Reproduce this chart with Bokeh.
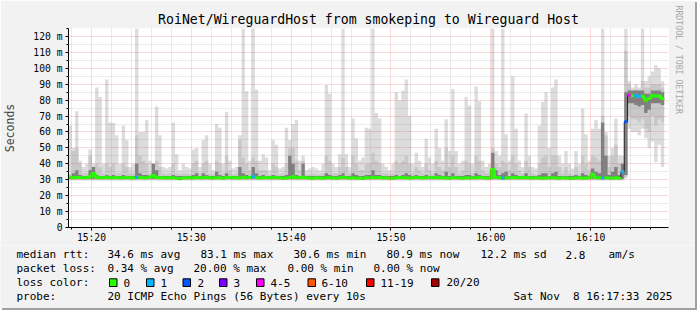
from bokeh.plotting import figure
from bokeh.layouts import column, row
from bokeh.models import Range1d, FixedTicker, Title
from bokeh.embed import file_html
from bokeh.resources import INLINE

FONT = "DejaVu Sans Mono"
TITLE = "RoiNet/WireguardHost from smokeping to Wireguard Host"

# ---------------- data (ms), one sample per 20 s starting 15:17:42 ----------------
start_min = 17.7      # minutes after 15:00
step_s = 20

light_hi = [
    64, 50, 73, 42, 38, 40, 49, 40, 88, 82,
    40, 93, 66, 65.6, 58, 40, 64, 55, 38, 40,
    125, 60, 60, 67.5, 42, 40, 76, 58, 38, 37,
    38, 66, 46, 36, 40, 38, 37, 49, 50, 38,
    55, 58, 40, 36, 65, 62.7, 40, 72.5, 42, 37,
    38, 58, 125, 85.6, 42, 125, 86.7, 42, 46, 44,
    36, 55, 52, 37, 38, 62.7, 55, 64.8, 67.7, 42,
    45, 36, 37, 38, 37, 36, 40, 89.5, 84, 40,
    38, 46, 125, 46, 38, 68.5, 56, 42, 44, 62.7,
    62, 125, 72, 68.5, 40, 38, 36, 40, 85, 80,
    86, 93, 70, 40, 47, 42, 38, 55.8, 44, 40,
    62, 50, 42, 68, 48, 87, 48, 40, 42, 82,
    76.7, 40, 88.5, 79.4, 42, 38, 40, 125, 48, 45,
    125, 58.5, 42, 95, 62, 42, 38, 71.6, 45, 38,
    37, 64, 79, 85, 50, 88, 93, 45, 40, 48,
    40, 37, 48, 40, 74.6, 58.5, 42, 62, 67.6, 62,
    125, 60, 45, 50, 68.5, 45, 45, 125, 92, 88,
    90, 88, 125, 92, 95, 98, 102, 100, 92,
]
light_lo = [
    29.5, 29.5, 29.5, 29.5, 29.5, 29.5, 29.5, 29.5, 29.5, 29.5,
    29.5, 29.5, 29.5, 29.5, 29.5, 29.5, 29.5, 29.5, 29.5, 29.5,
    29.5, 29.5, 29.5, 29.5, 29.5, 29.5, 29.5, 29.5, 29.5, 29.5,
    29.5, 29.5, 29.5, 29.5, 29.5, 29.5, 29.5, 29.5, 29.5, 29.5,
    29.5, 29.5, 29.5, 29.5, 29.5, 29.5, 29.5, 29.5, 29.5, 29.5,
    29.5, 29.5, 29.5, 29.5, 29.5, 29.5, 29.5, 29.5, 29.5, 29.5,
    29.5, 29.5, 29.5, 29.5, 29.5, 29.5, 29.5, 29.5, 29.5, 29.5,
    29.5, 29.5, 29.5, 29.5, 29.5, 29.5, 29.5, 29.5, 29.5, 29.5,
    29.5, 29.5, 29.5, 29.5, 29.5, 29.5, 29.5, 29.5, 29.5, 29.5,
    29.5, 29.5, 29.5, 29.5, 29.5, 29.5, 29.5, 29.5, 29.5, 29.5,
    29.5, 29.5, 29.5, 29.5, 29.5, 29.5, 29.5, 29.5, 29.5, 29.5,
    29.5, 29.5, 29.5, 29.5, 29.5, 29.5, 29.5, 29.5, 29.5, 29.5,
    29.5, 29.5, 29.5, 29.5, 29.5, 29.5, 29.5, 29.5, 29.5, 29.5,
    29.5, 29.5, 29.5, 29.5, 29.5, 29.5, 29.5, 29.5, 29.5, 29.5,
    29.5, 29.5, 29.5, 29.5, 29.5, 29.5, 29.5, 29.5, 29.5, 29.5,
    29.5, 29.5, 29.5, 29.5, 29.5, 29.5, 29.5, 29.5, 29.5, 29.5,
    29.5, 29.5, 29.5, 29.5, 29.5, 29.5, 29.5, 31, 62, 60,
    60, 58, 62, 56, 50, 54, 41, 52, 38,
]
mid_hi = [
    33.5, 48, 50, 40, 34, 34, 45, 38, 40, 38,
    34, 40, 38, 40, 34, 34, 40, 38, 34, 34,
    58, 45, 42, 40, 34, 40, 42, 38, 34, 33.5,
    34, 40, 34, 33.5, 34, 34, 33.5, 40, 42, 34,
    40, 42, 34, 33.5, 42, 40, 34, 45, 36, 33.5,
    34, 55, 44, 40, 36, 44, 42, 36, 36, 36,
    33.5, 40, 38, 33.5, 34, 40, 50, 50, 42, 36,
    42, 33.5, 33.5, 34, 33.5, 33.5, 34, 45, 42, 34,
    34, 38, 44, 38, 34, 45, 40, 36, 36, 40,
    40, 47, 42, 40, 34, 34, 33.5, 34, 42, 40,
    42, 45, 40, 34, 38, 36, 34, 40, 36, 34,
    42, 38, 36, 50, 38, 45, 38, 34, 36, 42,
    40, 34, 45, 42, 36, 34, 34, 50, 40, 38,
    42, 40, 36, 45, 40, 36, 34, 42, 38, 34,
    33.5, 40, 44, 45, 38, 45, 45, 38, 34, 38,
    34, 33.5, 38, 34, 45, 40, 36, 45, 44, 42,
    70, 58, 38, 45, 52, 40, 40, 111, 90, 86,
    87, 86, 92, 88, 88, 90, 90, 90, 88,
]
mid_lo = [
    30.2, 30.2, 30.2, 30.2, 30.2, 30.2, 30.2, 30.2, 30.2, 30.2,
    30.2, 30.2, 30.2, 30.2, 30.2, 30.2, 30.2, 30.2, 30.2, 30.2,
    30.2, 30.2, 30.2, 30.2, 30.2, 30.2, 30.2, 30.2, 30.2, 30.2,
    30.2, 30.2, 30.2, 30.2, 30.2, 30.2, 30.2, 30.2, 30.2, 30.2,
    30.2, 30.2, 30.2, 30.2, 30.2, 30.2, 30.2, 30.2, 30.2, 30.2,
    30.2, 30.2, 30.2, 30.2, 30.2, 30.2, 30.2, 30.2, 30.2, 30.2,
    30.2, 30.2, 30.2, 30.2, 30.2, 30.2, 30.2, 30.2, 30.2, 30.2,
    30.2, 30.2, 30.2, 30.2, 30.2, 30.2, 30.2, 30.2, 30.2, 30.2,
    30.2, 30.2, 30.2, 30.2, 30.2, 30.2, 30.2, 30.2, 30.2, 30.2,
    30.2, 30.2, 30.2, 30.2, 30.2, 30.2, 30.2, 30.2, 30.2, 30.2,
    30.2, 30.2, 30.2, 30.2, 30.2, 30.2, 30.2, 30.2, 30.2, 30.2,
    30.2, 30.2, 30.2, 30.2, 30.2, 30.2, 30.2, 30.2, 30.2, 30.2,
    30.2, 30.2, 30.2, 30.2, 30.2, 30.2, 30.2, 30.2, 30.2, 30.2,
    30.2, 30.2, 30.2, 30.2, 30.2, 30.2, 30.2, 30.2, 30.2, 30.2,
    30.2, 30.2, 30.2, 30.2, 30.2, 30.2, 30.2, 30.2, 30.2, 30.2,
    30.2, 30.2, 30.2, 30.2, 30.2, 30.2, 30.2, 30.2, 30.2, 30.2,
    30.2, 30.2, 30.2, 30.2, 30.2, 30.2, 30.2, 32, 70, 68,
    68, 66, 68, 62, 60, 70, 64, 68, 66,
]
dark_hi = [
    32.4, 34, 36, 33, 32.4, 32.4, 36, 38, 33, 32.4,
    32.4, 33, 32.4, 33, 32.4, 32.4, 33, 32.4, 32.4, 32.4,
    40, 34, 33, 33, 32.4, 40, 36, 32.4, 32.4, 32.4,
    32.4, 33, 32.4, 32.4, 32.4, 32.4, 32.4, 33, 34, 32.4,
    34, 33, 32.4, 32.4, 35, 33, 32.4, 34, 32.4, 32.4,
    32.4, 38, 34, 33, 32.4, 38, 34, 32.4, 33, 32.4,
    32.4, 33, 32.4, 32.4, 32.4, 33, 45, 40, 33, 32.4,
    40, 32.4, 32.4, 32.4, 32.4, 32.4, 32.4, 34, 33, 32.4,
    32.4, 33, 34, 32.4, 32.4, 34, 33, 32.4, 32.4, 33,
    33, 36, 33, 33, 32.4, 32.4, 32.4, 32.4, 33, 32.4,
    33, 34, 33, 32.4, 33, 32.4, 32.4, 33, 32.4, 32.4,
    34, 33, 32.4, 35, 32.4, 34, 32.4, 32.4, 32.4, 33,
    33, 32.4, 34, 33, 32.4, 32.4, 32.4, 47, 36, 33,
    34, 35, 32.4, 34, 33, 32.4, 32.4, 34, 32.4, 32.4,
    32.4, 33, 34, 34, 32.4, 34, 35, 32.4, 32.4, 32.4,
    32.4, 32.4, 33, 32.4, 34, 33, 32.4, 37, 35, 34,
    66, 45, 33, 35, 38, 33, 40, 85, 86, 86,
    86, 86, 86, 84, 84, 86, 86, 86, 85,
]
dark_lo = [
    30.6, 30.6, 30.6, 30.6, 30.6, 30.6, 30.6, 30.6, 30.6, 30.6,
    30.6, 30.6, 30.6, 30.6, 30.6, 30.6, 30.6, 30.6, 30.6, 30.6,
    30.6, 30.6, 30.6, 30.6, 30.6, 30.6, 30.6, 30.6, 30.6, 30.6,
    30.6, 30.6, 30.6, 30.6, 30.6, 30.6, 30.6, 30.6, 30.6, 30.6,
    30.6, 30.6, 30.6, 30.6, 30.6, 30.6, 30.6, 30.6, 30.6, 30.6,
    30.6, 30.6, 30.6, 30.6, 30.6, 30.6, 30.6, 30.6, 30.6, 30.6,
    30.6, 30.6, 30.6, 30.6, 30.6, 30.6, 30.6, 30.6, 30.6, 30.6,
    30.6, 30.6, 30.6, 30.6, 30.6, 30.6, 30.6, 30.6, 30.6, 30.6,
    30.6, 30.6, 30.6, 30.6, 30.6, 30.6, 30.6, 30.6, 30.6, 30.6,
    30.6, 30.6, 30.6, 30.6, 30.6, 30.6, 30.6, 30.6, 30.6, 30.6,
    30.6, 30.6, 30.6, 30.6, 30.6, 30.6, 30.6, 30.6, 30.6, 30.6,
    30.6, 30.6, 30.6, 30.6, 30.6, 30.6, 30.6, 30.6, 30.6, 30.6,
    30.6, 30.6, 30.6, 30.6, 30.6, 30.6, 30.6, 30.6, 30.6, 30.6,
    30.6, 30.6, 30.6, 30.6, 30.6, 30.6, 30.6, 30.6, 30.6, 30.6,
    30.6, 30.6, 30.6, 30.6, 30.6, 30.6, 30.6, 30.6, 30.6, 30.6,
    30.6, 30.6, 30.6, 30.6, 30.6, 30.6, 30.6, 30.6, 30.6, 30.6,
    30.6, 30.6, 30.6, 30.6, 30.6, 30.6, 30.6, 33, 78, 78,
    77, 76, 77, 72, 74, 78, 78, 78, 77,
]
median_ms = [
    31.5, 31.2, 31.6, 31.4, 31.2, 31.3, 31.8, 33.9, 31.6, 31.3,
    31.2, 31.5, 31.3, 31.2, 31.4, 31.1, 31.3, 31.5, 31.2, 31.1,
    31.6, 31.4, 31.3, 31.2, 31.5, 32.6, 31.4, 31.2, 31.3, 31.1,
    31.2, 31.3, 31.0, 30.6, 31.1, 31.3, 31.2, 31.1, 31.4, 31.2,
    31.3, 31.6, 31.2, 31.1, 31.3, 31.2, 31.0, 31.4, 31.6, 31.3,
    31.2, 31.1, 31.5, 31.3, 31.6, 31.8, 31.3, 31.1, 31.2, 31.4,
    31.2, 31.3, 31.6, 31.2, 31.0, 31.1, 31.4, 31.8, 31.3, 31.2,
    31.5, 31.2, 31.1, 31.0, 31.2, 31.1, 31.0, 31.3, 31.2, 31.1,
    31.0, 31.2, 31.5, 31.3, 31.1, 31.2, 31.0, 31.1, 30.8, 31.2,
    31.3, 31.5, 31.2, 31.4, 31.1, 31.2, 31.0, 30.9, 31.2, 31.4,
    31.2, 31.3, 31.1, 31.2, 31.4, 31.2, 31.1, 31.3, 31.5, 31.2,
    31.6, 31.3, 31.2, 31.1, 31.0, 31.2, 31.3, 31.1, 30.9, 31.2,
    31.1, 31.3, 31.2, 31.4, 31.2, 31.1, 31.0, 36.5, 31.4, 31.2,
    30.9, 31.1, 31.2, 31.4, 31.3, 31.2, 31.5, 31.3, 31.2, 31.1,
    31.2, 31.1, 31.0, 31.1, 31.3, 31.2, 31.1, 31.0, 31.2, 31.1,
    31.0, 30.9, 31.1, 31.2, 31.0, 31.1, 31.2, 33.4, 31.3, 31.2,
    31.0, 31.2, 31.1, 31.0, 31.2, 30.9, 35.0, 66.4, 83.1, 82.7,
    82.7, 82.5, 82.5, 80.0, 81.0, 82.9, 82.6, 82.6, 80.9,
]
loss = [
    0, 0, 0, 0, 0, 0, 0, 0, 0, 0,
    0, 0, 0, 0, 0, 0, 0, 0, 0, 0,
    1, 0, 0, 0, 0, 0, 0, 0, 0, 0,
    0, 0, 0, 0, 0, 0, 0, 0, 0, 0,
    0, 0, 0, 0, 0, 0, 0, 0, 0, 0,
    0, 0, 0, 0, 0, 1, 0, 0, 0, 0,
    0, 0, 0, 0, 0, 0, 0, 0, 0, 0,
    0, 0, 0, 0, 0, 0, 0, 0, 0, 0,
    0, 0, 0, 0, 0, 0, 0, 0, 0, 0,
    0, 0, 0, 0, 0, 0, 0, 0, 0, 0,
    0, 0, 0, 0, 0, 0, 0, 0, 0, 0,
    0, 0, 0, 0, 0, 0, 0, 0, 0, 0,
    0, 0, 0, 0, 0, 0, 0, 0, 0, 0,
    1, 0, 0, 0, 0, 0, 0, 0, 0, 0,
    0, 0, 0, 0, 0, 0, 0, 0, 0, 0,
    0, 0, 0, 0, 0, 0, 0, 0, 0, 0,
    1, 0, 0, 0, 0, 0, 1, 2, 4, 0,
    1, 1, 0, 0, 0, 0, 0, 0, 0,
]

loss_labels = ["0", "1", "2", "3", "4-5", "6-10", "11-19", "20/20"]
loss_colors = ["#26ff00", "#00b8ff", "#0059ff", "#7e00ff", "#ff00ff", "#ff5500", "#ff0000", "#a10000"]

x_tick_pos = [20, 30, 40, 50, 60, 70]
x_tick_labels = ["15:20", "15:30", "15:40", "15:50", "16:00", "16:10"]
x_minor_pos = [18, 22, 24, 26, 28, 32, 34, 36, 38, 42, 44, 46, 48, 52, 54, 56, 58,
               62, 64, 66, 68, 72, 74, 76]
y_tick_pos = [0, 10, 20, 30, 40, 50, 60, 70, 80, 90, 100, 110, 120]
y_tick_labels = ["0", "10 m", "20 m", "30 m", "40 m", "50 m", "60 m", "70 m", "80 m",
                 "90 m", "100 m", "110 m", "120 m"]
y_minor_pos = [5, 15, 25, 35, 45, 55, 65, 75, 85, 95, 105, 115, 125]

stats_rtt = ["median rtt:", "34.6 ms avg", "83.1 ms max", "30.6 ms min", "80.9 ms now",
             "12.2 ms sd", "2.8", "am/s"]
stats_loss = ["packet loss:", "0.34 % avg", "20.00 % max", "0.00 % min", "0.00 % now"]
probe_text = ["probe:", "20 ICMP Echo Pings (56 Bytes) every 10s",
              "Sat Nov\u00a0\u00a08 16:17:33 2025"]
credit = "RRDTOOL / TOBI OETIKER"

# ---------------- layout constants (pixels) ----------------
W, H = 695, 308          # plus a 2 px shade on the right and bottom
MAIN_H = 245
FL, FR, FT, FB = 67, 668, 28, 228
BG = "#f2f2f2"
SHADE = "#a0a0a0"

# ---------------- main chart ----------------
p = figure(width=W, height=MAIN_H, output_backend="svg", toolbar_location=None,
           x_range=Range1d(17.7, 77.8), y_range=Range1d(0, 125),
           min_border_left=FL, min_border_right=W - FR,
           min_border_top=FT, min_border_bottom=MAIN_H - FB, title=TITLE)
p.background_fill_color = "white"
p.border_fill_color = BG
p.outline_line_color = None

p.title.align = "center"
p.title.text_font = FONT
p.title.text_font_size = "13.2px"
p.title.text_font_style = "normal"
p.title.text_color = "black"
p.title.standoff = 3
p.title.offset = 0

p.add_layout(Title(text=credit, text_font=FONT, text_font_size="8.2px",
                   text_font_style="normal", text_color="#a8a8a8", align="left",
                   vertical_align="top", offset=-23, standoff=6), "right")

n = len(median_ms)
dt = step_s / 60.0
t = [start_min + i * dt for i in range(n)]
t_ext = t + [t[-1] + dt]


def ext(a):
    return list(a) + [a[-1]]


p.varea_step(x=t_ext, y1=ext(light_lo), y2=ext(light_hi), step_mode="after",
             fill_color="#dcdcdc")
p.varea_step(x=t_ext, y1=ext(mid_lo), y2=ext(mid_hi), step_mode="after",
             fill_color="#c8c8c8")
p.varea_step(x=t_ext, y1=ext(dark_lo), y2=ext(dark_hi), step_mode="after",
             fill_color="#808080")

p.step(x=t_ext, y=ext(median_ms), mode="after", line_color="#202020", line_width=1)


def bucket(l):
    if l <= 3:
        return l
    if l <= 5:
        return 4
    if l <= 10:
        return 5
    if l <= 19:
        return 6
    return 7


runs_x, runs_y, runs_c = [], [], []
i = 0
while i < n:
    b = bucket(loss[i])
    xs, ys = [], []
    j = i
    while j < n and bucket(loss[j]) == b:
        xs += [t_ext[j], t_ext[j + 1]]
        ys += [median_ms[j], median_ms[j]]
        j += 1
    runs_x.append(xs)
    runs_y.append(ys)
    runs_c.append(loss_colors[b])
    i = j
p.multi_line(xs=runs_x, ys=runs_y, line_color=runs_c, line_width=3)

xt = FixedTicker(ticks=x_tick_pos, minor_ticks=x_minor_pos)
yt = FixedTicker(ticks=y_tick_pos, minor_ticks=y_minor_pos)
p.xaxis.ticker = xt
p.yaxis.ticker = yt
p.xaxis.major_label_overrides = dict(zip(x_tick_pos, x_tick_labels))
p.yaxis.major_label_overrides = dict(zip(y_tick_pos, y_tick_labels))

for ax in (p.xaxis, p.yaxis):
    ax.axis_line_color = "black"
    ax.major_tick_line_color = "black"
    ax.minor_tick_line_color = "black"
    ax.major_tick_in = 0
    ax.minor_tick_in = 0
    ax.major_tick_out = 3
    ax.minor_tick_out = 2
    ax.major_label_text_font = FONT
    ax.major_label_text_font_size = "9.7px"
    ax.major_label_text_color = "black"
p.xaxis.major_label_standoff = 1
p.yaxis.major_label_standoff = 3
p.yaxis.axis_label = "Seconds"
p.yaxis.axis_label_text_font = FONT
p.yaxis.axis_label_text_font_size = "11.5px"
p.yaxis.axis_label_text_font_style = "normal"
p.yaxis.axis_label_standoff = 13

for g in (p.xgrid, p.ygrid):
    g.level = "guide"
    g.grid_line_color = "#ee3030"
    g.grid_line_alpha = 0.35
    g.grid_line_dash = "1 1"
    g.minor_grid_line_color = "#8c8c8c"
    g.minor_grid_line_alpha = 0.35
    g.minor_grid_line_dash = "1 1"

# ---------------- bottom strip (legend / stats) ----------------
leg = figure(width=W, height=H - MAIN_H, output_backend="svg", toolbar_location=None,
             x_range=Range1d(0, W), y_range=Range1d(H, MAIN_H),
             x_axis_location=None, y_axis_location=None, min_border=0)
leg.background_fill_color = BG
leg.border_fill_color = BG
leg.outline_line_color = None
leg.grid.visible = False

rtt_x = [16, 107, 200, 293, 386, 480, 565, 608]
loss_x = [16, 107, 193, 287, 373]
sq_x = [109, 146, 182.5, 219, 256, 307.5, 366, 431]
txt_x = [123, 160, 197, 233, 270, 321, 380, 446]
probe_x = [16, 107, 513]
ROW_Y = [254, 268, 282, 296]

tx, ty, tt = [], [], []
for x, s in zip(rtt_x, stats_rtt):
    tx.append(x); ty.append(ROW_Y[0]); tt.append(s)
for x, s in zip(loss_x, stats_loss):
    tx.append(x); ty.append(ROW_Y[1]); tt.append(s)
tx.append(16); ty.append(ROW_Y[2]); tt.append("loss color:")
for x, s in zip(txt_x, loss_labels):
    tx.append(x); ty.append(ROW_Y[2]); tt.append(s)
for x, s in zip(probe_x, probe_text):
    tx.append(x); ty.append(ROW_Y[3]); tt.append(s)
leg.text(x=tx, y=ty, text=tt, text_font={"value": FONT}, text_font_size="11px",
         text_color="black", text_align="left", text_baseline="middle")
leg.quad(left=sq_x, right=[v + 7.5 for v in sq_x], top=[278.3] * len(sq_x),
         bottom=[286] * len(sq_x), fill_color=loss_colors, line_color="black", line_width=1)

layout = column(row(p), leg, styles={"box-shadow": "2px 2px 0 0 " + SHADE})
open("out.html", "w").write(file_html(layout, INLINE))
